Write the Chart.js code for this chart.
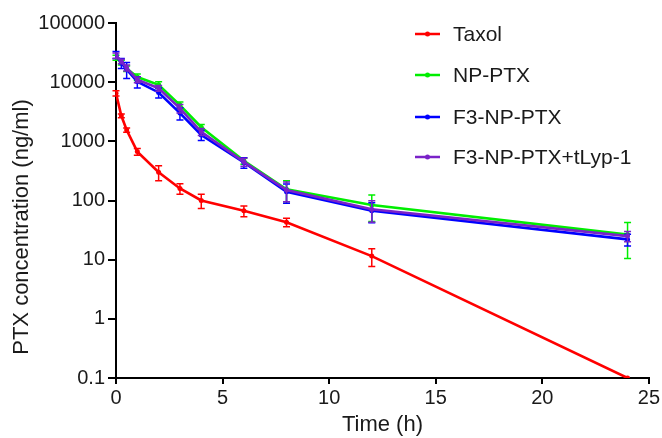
<!DOCTYPE html>
<html>
<head>
<meta charset="utf-8">
<script src="https://cdn.jsdelivr.net/npm/chart.js@4.4.1/dist/chart.umd.min.js"></script>
<style>
  html, body { margin: 0; padding: 0; background: #fff; }
  #wrap { width: 662px; height: 438px; position: relative; }
</style>
</head>
<body>
<div id="wrap"><canvas id="c"></canvas></div>
<script>
// ---- data ----
const timeH = [0, 0.25, 0.5, 1, 2, 3, 4, 6, 8, 12, 24];
const seriesNames = ['Taxol', 'NP-PTX', 'F3-NP-PTX', 'F3-NP-PTX+tLyp-1'];
const taxol      = [6500, 2700, 1550, 670, 300, 160, 100, 67, 43, 11.5, 0.1];
const taxolSD    = [650, 200, 130, 90, 85, 32, 27, 14, 7, 3.8, 0];
const npPtx      = [26000, 21500, 17000, 12200, 9000, 4100, 1730, 470, 155, 84, 26.5];
const npPtxSD    = [2500, 2000, 1800, 1500, 1200, 500, 200, 60, 60, 40, 16];
const f3NpPtx    = [29000, 21000, 16500, 10200, 6700, 3000, 1280, 440, 140, 67, 22];
const f3NpPtxSD  = [4000, 4000, 5000, 2200, 1300, 700, 250, 90, 50, 25, 5];
const f3Tlyp     = [28000, 22500, 17500, 11000, 7900, 3600, 1450, 450, 150, 71, 25];
const f3TlypSD   = [3000, 2000, 2000, 1200, 900, 600, 200, 70, 55, 28, 5];
const yTickValues = [0.1, 1, 10, 100, 1000, 10000, 100000];
const yTickLabels = ['0.1', '1', '10', '100', '1000', '10000', '100000'];
const xTickValues = [0, 5, 10, 15, 20, 25];
const xTickLabels = ['0', '5', '10', '15', '20', '25'];
const xTitle = 'Time (h)';
const yTitle = 'PTX concentration (ng/ml)';

const colors = ['#ff0000', '#00ee00', '#0000ff', '#7a22c8'];
const FONT = '"Liberation Sans", Arial, sans-serif';

function pts(vals) { return timeH.map((t, i) => ({ x: t, y: vals[i] })); }

const values = [taxol, npPtx, f3NpPtx, f3Tlyp];
const sds = [taxolSD, npPtxSD, f3NpPtxSD, f3TlypSD];
const orders = [0, 3, 2, 1];

const datasets = seriesNames.map((name, k) => ({
  label: name,
  data: pts(values[k]),
  sd: sds[k],
  borderColor: colors[k],
  backgroundColor: colors[k],
  pointBackgroundColor: colors[k],
  pointBorderColor: colors[k],
  pointRadius: 2.5,
  pointBorderWidth: 0,
  borderWidth: 2.6,
  tension: 0,
  order: orders[k]
}));

const errorBars = {
  id: 'errorBars',
  afterDatasetDraw(chart, args) {
    const ds = chart.data.datasets[args.index];
    const meta = args.meta;
    const ys = chart.scales.y;
    const ctx = chart.ctx;
    ctx.save();
    ctx.strokeStyle = ds.borderColor;
    ctx.lineWidth = 1.5;
    meta.data.forEach((el, i) => {
      const v = ds.data[i].y, s = ds.sd[i];
      if (!s) return;
      const top = ys.getPixelForValue(v + s);
      const lo = Math.max(v - s, v * 0.05);
      const bot = ys.getPixelForValue(lo);
      const x = el.x, w = 3.5;
      ctx.beginPath();
      ctx.moveTo(x, top); ctx.lineTo(x, bot);
      ctx.moveTo(x - w, top); ctx.lineTo(x + w, top);
      ctx.moveTo(x - w, bot); ctx.lineTo(x + w, bot);
      ctx.stroke();
    });
    ctx.restore();
  }
};

const legendAndTitles = {
  id: 'legendAndTitles',
  afterDraw(chart) {
    const ctx = chart.ctx;
    ctx.save();
    // legend
    const ys = [34, 75, 117, 157];
    ctx.font = '21px ' + FONT;
    ctx.textBaseline = 'middle';
    ctx.textAlign = 'left';
    chart.data.datasets.forEach((ds, k) => {
      const y = ys[k];
      ctx.strokeStyle = ds.borderColor;
      ctx.lineWidth = 2.5;
      ctx.beginPath(); ctx.moveTo(415, y); ctx.lineTo(440, y); ctx.stroke();
      ctx.fillStyle = ds.borderColor;
      ctx.beginPath(); ctx.arc(427.5, y, 2.5, 0, Math.PI * 2); ctx.fill();
      ctx.fillStyle = '#1a1a1a';
      ctx.fillText(ds.label, 453, y + 1);
    });
    // axis titles
    ctx.font = '22px ' + FONT;
    ctx.fillStyle = '#1a1a1a';
    ctx.textAlign = 'center';
    ctx.fillText(xTitle, (chart.chartArea.left + chart.chartArea.right) / 2, 425);
    ctx.translate(22, 227);
    ctx.rotate(-Math.PI / 2);
    ctx.fillText(yTitle, 0, 0);
    ctx.restore();
  }
};

new Chart(document.getElementById('c'), {
  type: 'line',
  data: { datasets },
  plugins: [errorBars, legendAndTitles],
  options: {
    responsive: true,
    maintainAspectRatio: false,
    animation: false,
    devicePixelRatio: 1,
    layout: { padding: { top: 23, right: 12, left: 0, bottom: 0 } },
    plugins: { legend: { display: false }, tooltip: { enabled: false } },
    scales: {
      x: {
        type: 'linear',
        min: 0, max: 25,
        afterBuildTicks(s) { s.ticks = xTickValues.map(v => ({ value: v })); },
        afterFit(s) { s.height = 60; },
        ticks: {
          callback: (v) => xTickLabels[xTickValues.indexOf(v)],
          color: '#1a1a1a',
          font: { family: FONT, size: 20 },
          padding: 2,
          maxRotation: 0, autoSkip: false
        },
        grid: { drawOnChartArea: false, drawTicks: true, tickLength: 6, color: '#000', lineWidth: 2 },
        border: { display: true, color: '#000', width: 2 }
      },
      y: {
        type: 'logarithmic',
        min: 0.1, max: 100000,
        afterBuildTicks(s) { s.ticks = yTickValues.map(v => ({ value: v })); },
        afterFit(s) { s.width = 116; },
        ticks: {
          callback: (v) => yTickLabels[yTickValues.indexOf(v)],
          color: '#1a1a1a',
          font: { family: FONT, size: 20 },
          padding: 3,
          autoSkip: false
        },
        grid: { drawOnChartArea: false, drawTicks: true, tickLength: 8, color: '#000', lineWidth: 2 },
        border: { display: true, color: '#000', width: 2 }
      }
    }
  }
});
</script>
</body>
</html>
